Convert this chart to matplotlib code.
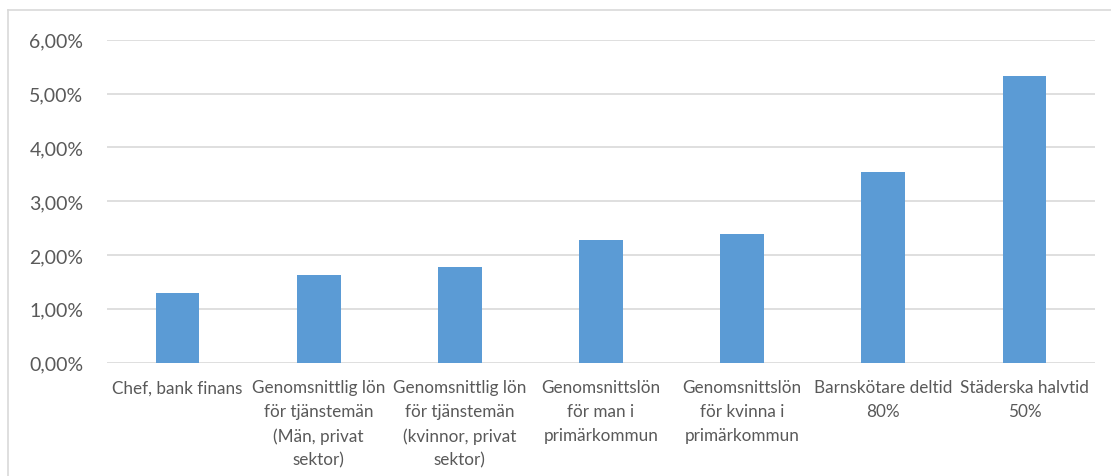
import matplotlib
matplotlib.use("Agg")
import matplotlib.pyplot as plt
from matplotlib.lines import Line2D
from matplotlib.ticker import FuncFormatter

categories = [
    "Chef, bank finans",
    "Genomsnittlig lön\nför tjänstemän\n(Män, privat\nsektor)",
    "Genomsnittlig lön\nför tjänstemän\n(kvinnor, privat\nsektor)",
    "Genomsnittslön\nför man i\nprimärkommun",
    "Genomsnittslön\nför kvinna i\nprimärkommun",
    "Barnskötare deltid\n80%",
    "Städerska halvtid\n50%",
]
values = [1.29, 1.63, 1.78, 2.28, 2.38, 3.54, 5.32]
yticks = [0, 1, 2, 3, 4, 5, 6]

plt.rcParams['font.family'] = ['Lato', 'DejaVu Sans']

fig = plt.figure(figsize=(11.11, 4.77), dpi=100)
ax = fig.add_axes([107/1111, 113.5/477, 988/1111, 322.8/477])

x = list(range(len(categories)))
ax.bar(x, values, width=0.31, color='#5B9BD5', zorder=3)
ax.set_xlim(-0.5, len(categories) - 0.5)
ax.set_ylim(0, 6)
ax.set_yticks(yticks)
ax.yaxis.set_major_formatter(FuncFormatter(lambda v, p: f"{v:.2f}".replace('.', ',') + '%'))
ax.set_xticks(x)
ax.set_xticklabels(categories, fontsize=12.3, color='#595959', linespacing=1.6, ha='center', multialignment='center')
ax.tick_params(axis='x', length=0, pad=12)
ax.tick_params(axis='y', length=0, pad=17, labelsize=14, labelcolor='#595959')
ax.grid(axis='y', color='#D9D9D9', linewidth=1.2, zorder=0)
for s in ax.spines.values():
    s.set_visible(False)

# chart border (left and top)
fig.add_artist(Line2D([7.5/1111, 7.5/1111], [0, 1 - 11/477], transform=fig.transFigure, color='#D9D9D9', linewidth=1.2))
fig.add_artist(Line2D([7.5/1111, 1], [1 - 11/477, 1 - 11/477], transform=fig.transFigure, color='#D9D9D9', linewidth=1.2))

fig.savefig('out.png', dpi=100)
